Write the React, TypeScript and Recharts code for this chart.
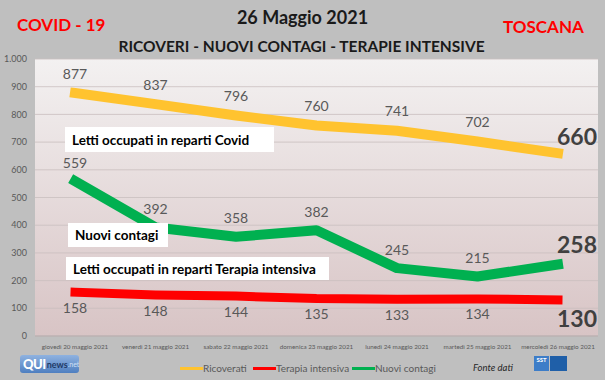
import { LineChart, Line, XAxis, YAxis, CartesianGrid, LabelList } from 'recharts';

const categories = [
  'giovedì 20 maggio 2021',
  'venerdì 21 maggio 2021',
  'sabato 22 maggio 2021',
  'domenica 23 maggio 2021',
  'lunedì 24 maggio 2021',
  'martedì 25 maggio 2021',
  'mercoledì 26 maggio 2021',
];
const ricoverati = [877, 837, 796, 760, 741, 702, 660];
const terapiaIntensiva = [158, 148, 144, 135, 133, 134, 130];
const nuoviContagi = [559, 392, 358, 382, 245, 215, 258];
const yTicks = [0, 100, 200, 300, 400, 500, 600, 700, 800, 900, 1000];

const data = categories.map((day, i) => ({
  day,
  ricoverati: ricoverati[i],
  terapia: terapiaIntensiva[i],
  nuovi: nuoviContagi[i],
}));

const FONT = 'Lato, "Open Sans", sans-serif';
const YELLOW = '#ffc32f';
const RED = '#ff0000';
const GREEN = '#00b050';

const makeLabel = (dy: number, lastDy: number) => (props: any) => {
  const { x, y, value, index } = props;
  const last = index === categories.length - 1;
  return (
    <text
      x={last ? x + 19 : x}
      y={y + (last ? lastDy : dy)}
      textAnchor="middle"
      dominantBaseline="central"
      fontFamily={FONT}
      fontSize={last ? 23 : 14}
      fontWeight={last ? 700 : 400}
      fill={last ? '#404040' : '#595959'}
    >
      {value}
    </text>
  );
};

const boxStyle: React.CSSProperties = {
  position: 'absolute',
  background: '#fff',
  fontFamily: FONT,
  fontWeight: 700,
  fontSize: 13.5,
  color: '#000',
  display: 'flex',
  alignItems: 'center',
  paddingLeft: 7,
  boxSizing: 'border-box',
};

const abs = (left: number, top: number): React.CSSProperties => ({
  position: 'absolute',
  left,
  top,
  whiteSpace: 'nowrap',
  fontFamily: FONT,
});

function LegendItem({ left, color, label }: { left: number; color: string; label: string }) {
  return (
    <div style={{ ...abs(left, 362), display: 'flex', alignItems: 'center', fontSize: 10, color: '#595959' }}>
      <span style={{ display: 'inline-block', width: 23, height: 3, background: color }} />
      <span>{label}</span>
    </div>
  );
}

export default function App() {
  return (
    <div style={{ position: 'relative', width: 605, height: 380, background: '#bfbfbf', overflow: 'hidden' }}>
      <style>{'body{margin:0}'}</style>
      <LineChart
        width={605}
        height={380}
        data={data}
        margin={{ top: 59, right: 7, bottom: 16, left: 0 }}
      >
        <defs>
          <linearGradient id="plotBg" x1="0" y1="0" x2="0" y2="1">
            <stop offset="0%" stopColor="#f3f1f1" />
            <stop offset="100%" stopColor="#d8c4c5" />
          </linearGradient>
        </defs>
        <CartesianGrid
          vertical={false}
          fill="url(#plotBg)"
          fillOpacity={1}
          stroke="#c9bfbf"
          strokeWidth={0.8}
        />
        <XAxis
          dataKey="day"
          height={28}
          interval={0}
          padding={{ left: 40, right: 40 }}
          axisLine={{ stroke: '#b5abab' }}
          tickLine={false}
          tickMargin={3}
          tick={{ fill: '#595959', fontSize: 6.3, fontFamily: FONT }}
        />
        <YAxis
          width={35}
          domain={[0, 1000]}
          ticks={yTicks}
          axisLine={false}
          tickLine={false}
          tickSize={0}
          tickMargin={8}
          tick={{ fill: '#595959', fontSize: 9, fontFamily: FONT }}
          tickFormatter={(v: number) => v.toLocaleString('de-DE')}
        />
        <Line
          dataKey="ricoverati"
          stroke={YELLOW}
          strokeWidth={10}
          strokeLinecap="square"
          strokeLinejoin="round"
          dot={false}
          activeDot={false}
          isAnimationActive={false}
        >
          <LabelList dataKey="ricoverati" content={makeLabel(-20, -17)} />
        </Line>
        <Line
          dataKey="terapia"
          stroke={RED}
          strokeWidth={9}
          strokeLinecap="square"
          strokeLinejoin="round"
          dot={false}
          activeDot={false}
          isAnimationActive={false}
        >
          <LabelList dataKey="terapia" content={makeLabel(15, 18)} />
        </Line>
        <Line
          dataKey="nuovi"
          stroke={GREEN}
          strokeWidth={10}
          strokeLinecap="square"
          strokeLinejoin="round"
          dot={false}
          activeDot={false}
          isAnimationActive={false}
        >
          <LabelList dataKey="nuovi" content={makeLabel(-19, -21)} />
        </Line>
      </LineChart>

      {/* titles */}
      <div style={{ ...abs(17, 14), color: '#ff0000', fontWeight: 700, fontSize: 17 }}>COVID - 19</div>
      <div style={{ ...abs(0, 6), width: 605, textAlign: 'center', color: '#1a1a1a', fontWeight: 700, fontSize: 18 }}>
        26 Maggio 2021
      </div>
      <div style={{ ...abs(0, 37), width: 603, textAlign: 'center', color: '#1a1a1a', fontWeight: 700, fontSize: 15.5 }}>
        RICOVERI - NUOVI CONTAGI - TERAPIE INTENSIVE
      </div>
      <div style={{ ...abs(503, 16), color: '#ff0000', fontWeight: 700, fontSize: 17 }}>TOSCANA</div>

      {/* annotation boxes */}
      <div style={{ ...boxStyle, left: 65, top: 127, width: 209, height: 25 }}>Letti occupati in reparti Covid</div>
      <div style={{ ...boxStyle, left: 68, top: 223, width: 100, height: 24 }}>Nuovi contagi</div>
      <div style={{ ...boxStyle, left: 66, top: 257, width: 263, height: 23 }}>
        Letti occupati in reparti Terapia intensiva
      </div>

      {/* legend */}
      <LegendItem left={180} color={YELLOW} label="Ricoverati" />
      <LegendItem left={253} color={RED} label="Terapia intensiva" />
      <LegendItem left={352} color={GREEN} label="Nuovi contagi" />
      <div style={{ ...abs(473, 362), fontSize: 9.5, fontStyle: 'italic', color: '#262626' }}>Fonte dati</div>

      {/* QUI news logo */}
      <div
        style={{
          ...abs(20, 355),
          width: 59,
          height: 18,
          borderRadius: 3,
          background: 'linear-gradient(#8fb2e0, #4f7fc0)',
          display: 'flex',
          alignItems: 'center',
          paddingLeft: 3,
          boxSizing: 'border-box',
        }}
      >
        <span style={{ color: '#fff', fontWeight: 900, fontSize: 13, letterSpacing: -0.5 }}>QUI</span>
        <span style={{ color: '#1f3a66', fontWeight: 700, fontSize: 9, marginLeft: 1 }}>news</span>
        <span style={{ color: '#cfe0f5', fontSize: 7 }}>.net</span>
      </div>

      {/* SST logo */}
      <div style={{ ...abs(534, 356), width: 33, height: 15, display: 'flex', gap: 1 }}>
        <div
          style={{
            width: 15,
            height: 15,
            background: '#3d7dc8',
            color: '#fff',
            fontSize: 6,
            fontWeight: 700,
            textAlign: 'center',
            lineHeight: '8px',
          }}
        >
          SST
        </div>
        <div style={{ width: 17, height: 15, background: '#1f5fa8' }} />
      </div>
    </div>
  );
}
